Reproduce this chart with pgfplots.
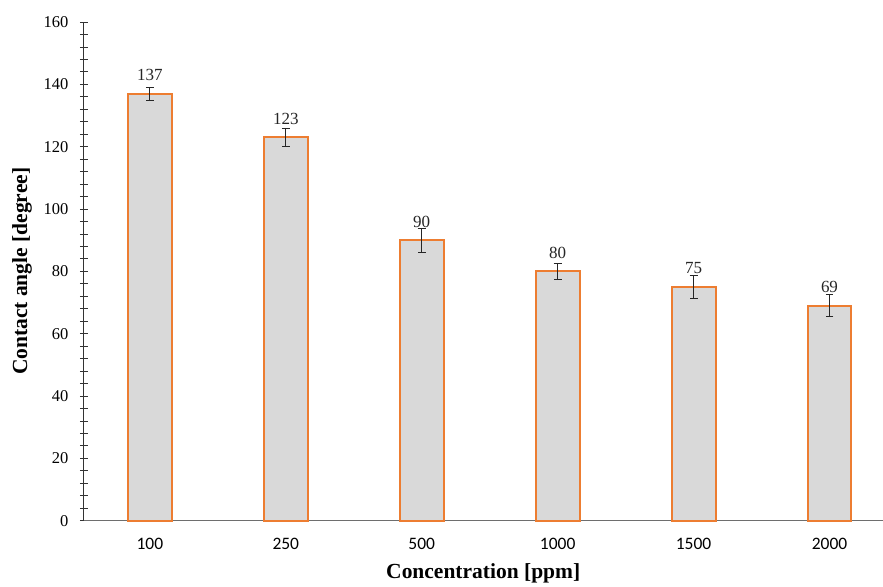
\documentclass[border=0pt]{standalone}
\usepackage{fontspec}
\setmainfont{Liberation Serif}
\newfontfamily\calibri{Carlito}
\usepackage{pgfplots}
\pgfplotsset{compat=1.18}
\definecolor{barfill}{RGB}{217,217,217}
\definecolor{barline}{RGB}{237,125,49}
\definecolor{axgray}{RGB}{110,110,110}
\begin{document}
\begin{tikzpicture}
\begin{axis}[
  at={(0pt,0pt)}, anchor=south west,
  scale only axis,
  width=799pt, height=499pt,
  xmin=-0.485, xmax=5.39,
  ymin=0, ymax=160,
  axis x line=bottom, axis y line=left,
  axis line style={-},
  x axis line style={axgray, line width=1pt},
  y axis line style={black!80, line width=1pt},
  xtick={0,1,2,3,4,5},
  xticklabels={100,250,500,1000,1500,2000},
  xtick style={draw=none},
  xticklabel style={font=\calibri\fontsize{17.5}{20}\selectfont, yshift=-10pt},
  ytick={0,20,...,160},
  minor y tick num=4,
  tick align=center,
  major tick length=8pt, minor tick length=8pt,
  ytick style={black!80, line width=0.8pt},
  yticklabel style={font=\fontsize{16.5}{19}\selectfont, xshift=-8pt},
  /pgf/number format/assume math mode=true,
  ylabel={\fontsize{21.5}{25}\selectfont\bfseries Contact angle [degree]},
  xlabel={\fontsize{21.5}{25}\selectfont\bfseries Concentration [ppm]},
  ylabel style={at={(axis description cs:-0.0775,0.5)}, anchor=center, rotate=0},
  xlabel style={yshift=-7pt},
  clip=false,
]
\addplot[ybar, bar width=44pt, bar shift=0pt, fill=barfill, draw=barline, line width=2pt,
  error bars/.cd, y dir=both, y explicit,
  error bar style={black!85, line width=0.8pt},
  error mark options={rotate=90, mark size=4pt, black!85, line width=0.8pt}]
coordinates {
 (0,137) +- (0,2.1)
 (1,123) +- (0,3.0)
 (2,90)  +- (0,3.9)
 (3,80)  +- (0,2.6)
 (4,75)  +- (0,3.6)
 (5,69)  +- (0,3.6)
};
\addplot[draw=none, mark=none, nodes near coords,
  every node near coord/.append style={anchor=base, yshift=13pt, font=\fontsize{17}{20}\selectfont, text=black!85}]
coordinates {(0,137) (1,123) (2,90) (3,80) (4,75) (5,69)};
\end{axis}
\path[use as bounding box] (-84pt,-64pt) rectangle (799pt,521pt);
\end{tikzpicture}
\end{document}
